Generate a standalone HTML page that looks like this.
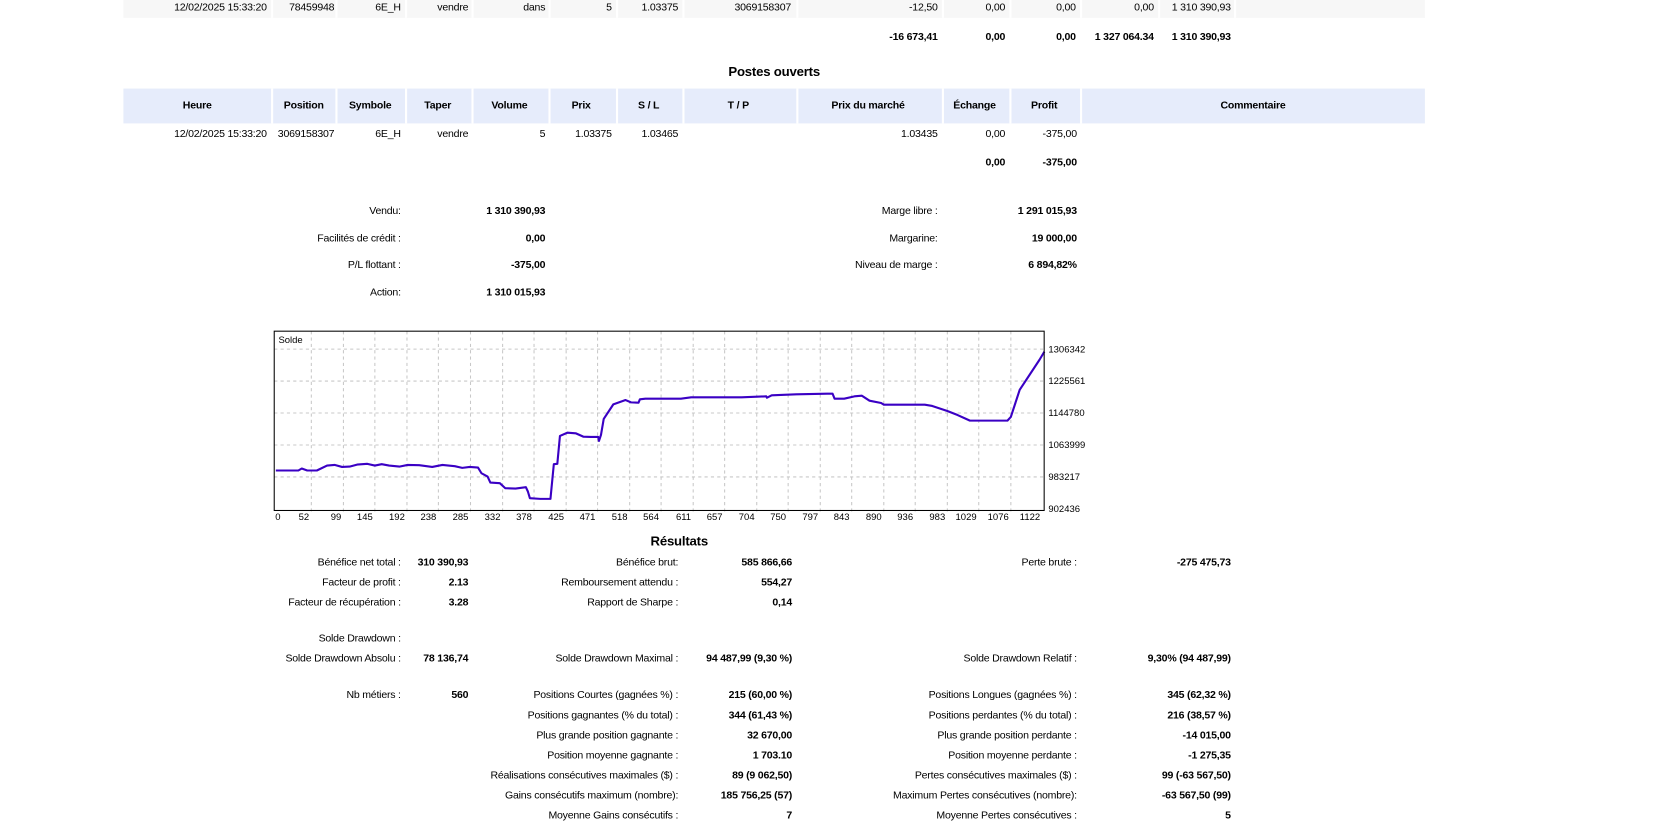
<!DOCTYPE html>
<html><head><meta charset="utf-8"><style>
html,body{margin:0;padding:0;background:#fff;overflow:hidden}
body{width:1658px;height:837px}
#w{position:absolute;left:0;top:0;width:1572px;height:794px;transform:scale(1.05471);transform-origin:0 0;font-family:"Liberation Sans",sans-serif;color:#000}
.t{position:absolute;white-space:nowrap;font-size:10px;line-height:12px;letter-spacing:-0.2px;transform:translate(-100%,-50%)}
.c{transform:translate(-50%,-50%)}
.b{font-weight:bold}
.bg{position:absolute}
</style></head><body>
<div id="w">
<!-- row 1 background -->
<div class="bg" style="left:117px;top:0;width:1234px;height:17px;background:#f7f7f7"></div>
<div class="bg" style="left:117px;top:84px;width:1234px;height:33px;background:#e6ecfb"></div>
<div id="seps"></div>

<div>
<span class="t" style="left:253px;top:8px">12/02/2025 15:33:20</span>
<span class="t" style="left:317px;top:8px">78459948</span>
<span class="t" style="left:380px;top:8px">6E_H</span>
<span class="t" style="left:444px;top:8px">vendre</span>
<span class="t" style="left:517px;top:8px">dans</span>
<span class="t" style="left:580px;top:8px">5</span>
<span class="t" style="left:643px;top:8px">1.03375</span>
<span class="t" style="left:750px;top:8px">3069158307</span>
<span class="t" style="left:889px;top:8px">-12,50</span>
<span class="t" style="left:953px;top:8px">0,00</span>
<span class="t" style="left:1020px;top:8px">0,00</span>
<span class="t" style="left:1094px;top:8px">0,00</span>
<span class="t" style="left:1167px;top:8px">1 310 390,93</span>
</div>
<div>
<span class="t b" style="left:889px;top:36px">-16 673,41</span>
<span class="t b" style="left:953px;top:36px">0,00</span>
<span class="t b" style="left:1020px;top:36px">0,00</span>
<span class="t b" style="left:1094px;top:36px">1 327 064.34</span>
<span class="t b" style="left:1167px;top:36px">1 310 390,93</span>
</div>
<span class="t c b" style="left:734px;top:68px;font-size:12.5px">Postes ouverts</span>
<div>
<span class="t c b" style="left:187px;top:101px">Heure</span>
<span class="t c b" style="left:288px;top:101px">Position</span>
<span class="t c b" style="left:351px;top:101px">Symbole</span>
<span class="t c b" style="left:415px;top:101px">Taper</span>
<span class="t c b" style="left:483px;top:101px">Volume</span>
<span class="t c b" style="left:551px;top:101px">Prix</span>
<span class="t c b" style="left:615px;top:101px">S / L</span>
<span class="t c b" style="left:700px;top:101px">T / P</span>
<span class="t c b" style="left:823px;top:101px">Prix du marché</span>
<span class="t c b" style="left:924px;top:101px">Échange</span>
<span class="t c b" style="left:990px;top:101px">Profit</span>
<span class="t c b" style="left:1188px;top:101px">Commentaire</span>
</div>
<div>
<span class="t" style="left:253px;top:128px">12/02/2025 15:33:20</span>
<span class="t" style="left:317px;top:128px">3069158307</span>
<span class="t" style="left:380px;top:128px">6E_H</span>
<span class="t" style="left:444px;top:128px">vendre</span>
<span class="t" style="left:517px;top:128px">5</span>
<span class="t" style="left:580px;top:128px">1.03375</span>
<span class="t" style="left:643px;top:128px">1.03465</span>
<span class="t" style="left:889px;top:128px">1.03435</span>
<span class="t" style="left:953px;top:128px">0,00</span>
<span class="t" style="left:1021px;top:128px">-375,00</span>
</div>
<div>
<span class="t b" style="left:953px;top:155px">0,00</span>
<span class="t b" style="left:1021px;top:155px">-375,00</span>
</div>
<div>
<span class="t" style="left:380px;top:201px">Vendu:</span><span class="t b" style="left:517px;top:201px">1 310 390,93</span>
<span class="t" style="left:380px;top:227px">Facilités de crédit :</span><span class="t b" style="left:517px;top:227px">0,00</span>
<span class="t" style="left:380px;top:252px">P/L flottant :</span><span class="t b" style="left:517px;top:252px">-375,00</span>
<span class="t" style="left:380px;top:278px">Action:</span><span class="t b" style="left:517px;top:278px">1 310 015,93</span>
<span class="t" style="left:889px;top:201px">Marge libre :</span><span class="t b" style="left:1021px;top:201px">1 291 015,93</span>
<span class="t" style="left:889px;top:227px">Margarine:</span><span class="t b" style="left:1021px;top:227px">19 000,00</span>
<span class="t" style="left:889px;top:252px">Niveau de marge :</span><span class="t b" style="left:1021px;top:252px">6 894,82%</span>
</div>

<svg id="chart" style="position:absolute;left:0;top:0" width="1572" height="794"></svg>

<span class="t c b" style="left:644px;top:513px;font-size:12.5px">Résultats</span>
<div>
<span class="t" style="left:380px;top:534px">Bénéfice net total :</span><span class="t b" style="left:444px;top:534px">310 390,93</span>
<span class="t" style="left:643px;top:534px">Bénéfice brut:</span><span class="t b" style="left:751px;top:534px">585 866,66</span>
<span class="t" style="left:1021px;top:534px">Perte brute :</span><span class="t b" style="left:1167px;top:534px">-275 475,73</span>
<span class="t" style="left:380px;top:553px">Facteur de profit :</span><span class="t b" style="left:444px;top:553px">2.13</span>
<span class="t" style="left:643px;top:553px">Remboursement attendu :</span><span class="t b" style="left:751px;top:553px">554,27</span>
<span class="t" style="left:380px;top:572px">Facteur de récupération :</span><span class="t b" style="left:444px;top:572px">3.28</span>
<span class="t" style="left:643px;top:572px">Rapport de Sharpe :</span><span class="t b" style="left:751px;top:572px">0,14</span>
<span class="t" style="left:380px;top:606px">Solde Drawdown :</span>
<span class="t" style="left:380px;top:625px">Solde Drawdown Absolu :</span><span class="t b" style="left:444px;top:625px">78 136,74</span>
<span class="t" style="left:643px;top:625px">Solde Drawdown Maximal :</span><span class="t b" style="left:751px;top:625px">94 487,99 (9,30 %)</span>
<span class="t" style="left:1021px;top:625px">Solde Drawdown Relatif :</span><span class="t b" style="left:1167px;top:625px">9,30% (94 487,99)</span>
<span class="t" style="left:380px;top:660px">Nb métiers :</span><span class="t b" style="left:444px;top:660px">560</span>
<span class="t" style="left:643px;top:660px">Positions Courtes (gagnées %) :</span><span class="t b" style="left:751px;top:660px">215 (60,00 %)</span>
<span class="t" style="left:1021px;top:660px">Positions Longues (gagnées %) :</span><span class="t b" style="left:1167px;top:660px">345 (62,32 %)</span>
<span class="t" style="left:643px;top:679px">Positions gagnantes (% du total) :</span><span class="t b" style="left:751px;top:679px">344 (61,43 %)</span>
<span class="t" style="left:1021px;top:679px">Positions perdantes (% du total) :</span><span class="t b" style="left:1167px;top:679px">216 (38,57 %)</span>
<span class="t" style="left:643px;top:698px">Plus grande position gagnante :</span><span class="t b" style="left:751px;top:698px">32 670,00</span>
<span class="t" style="left:1021px;top:698px">Plus grande position perdante :</span><span class="t b" style="left:1167px;top:698px">-14 015,00</span>
<span class="t" style="left:643px;top:717px">Position moyenne gagnante :</span><span class="t b" style="left:751px;top:717px">1 703.10</span>
<span class="t" style="left:1021px;top:717px">Position moyenne perdante :</span><span class="t b" style="left:1167px;top:717px">-1 275,35</span>
<span class="t" style="left:643px;top:736px">Réalisations consécutives maximales ($) :</span><span class="t b" style="left:751px;top:736px">89 (9 062,50)</span>
<span class="t" style="left:1021px;top:736px">Pertes consécutives maximales ($) :</span><span class="t b" style="left:1167px;top:736px">99 (-63 567,50)</span>
<span class="t" style="left:643px;top:755px">Gains consécutifs maximum (nombre):</span><span class="t b" style="left:751px;top:755px">185 756,25 (57)</span>
<span class="t" style="left:1021px;top:755px">Maximum Pertes consécutives (nombre):</span><span class="t b" style="left:1167px;top:755px">-63 567,50 (99)</span>
<span class="t" style="left:643px;top:774px">Moyenne Gains consécutifs :</span><span class="t b" style="left:751px;top:774px">7</span>
<span class="t" style="left:1021px;top:774px">Moyenne Pertes consécutives :</span><span class="t b" style="left:1167px;top:774px">5</span>
</div>
</div>
<script>
// column separators (layout, not data)
var sepX=[257,318,384,447,520,584,647,755,893,957,1024];
var sepX1=[257,318,384,447,520,584,647,755,893,957,1024,1098,1170];
var seps=document.getElementById('seps');
function sep(x,y,h){var d=document.createElement('div');


d.style.cssText='position:absolute;left:'+x+'px;top:'+y+'px;width:2px;height:'+h+'px;background:#fff';seps.appendChild(d);}
sepX1.forEach(function(x){sep(x,0,17);});
sepX.forEach(function(x){sep(x,84,33);});

// chart data
var tradeIdx=[0,33,38,46,60,75,86,97,108,119,134,145,155,166,181,193,210,229,244,262,273,284,296,301,310,314,328,336,351,366,369,372,387,402,407,412,416,427,439,450,461,472,473,476,480,494,512,520,531,533,541,593,608,682,718,719,726,762,807,815,818,832,847,858,869,886,890,950,961,983,998,1016,1071,1076,1089,1118,1125];
var balance=[999377,999377,1004423,999377,999377,1011992,1013674,1008628,1009469,1014515,1016197,1011992,1015356,1011992,1009469,1013674,1012833,1008628,1013674,1010310,1006105,1008628,1006946,992649,984239,969101,967419,954804,953963,957327,946394,929574,927892,927892,1015356,1016197,1086841,1095251,1093569,1085159,1084318,1084318,1074226,1089364,1129732,1166736,1177669,1171782,1170941,1179351,1181033,1181033,1184397,1184397,1186920,1183556,1189443,1191966,1193648,1193648,1181033,1181033,1186920,1188602,1175987,1170100,1165895,1165895,1162531,1149916,1139824,1125527,1125527,1135000,1203400,1279500,1300000];
var xTicks=[0,52,99,145,192,238,285,332,378,425,471,518,564,611,657,704,750,797,843,890,936,983,1029,1076,1122];
var yTicks=[1306342,1225561,1144780,1063999,983217,902436];

var L=260,R=990,T=314,B=484;
function xS(i){return 261.5+i*0.6477;}
function yS(v){return 331+(1306342-v)/2666;}
var svg=document.getElementById('chart'),NS='http://www.w3.org/2000/svg';
function el(tag,attrs){var e=document.createElementNS(NS,tag);for(var k in attrs)e.setAttribute(k,attrs[k]);svg.appendChild(e);return e;}
var bg=el('rect',{x:L,y:T,width:R-L,height:B-T,fill:'#fff'});


xTicks.forEach(function(t,k){
  var x=xS(t);
  if(k>0&&x<R-2){var g=el('line',{x1:x,y1:T,x2:x,y2:B+3,stroke:'#c8c8c8','stroke-dasharray':'3,3'});
  
  }
  var tx=el('text',{x:k==0?L+1:x-2,y:B+9,'font-size':'9px','font-family':'Liberation Sans, sans-serif','text-anchor':k==0?'start':'end'});
  tx.textContent=t;
  
  
});
yTicks.forEach(function(v){
  var y=yS(v);
  if(y<B-2){var g=el('line',{x1:L,y1:y,x2:R,y2:y,stroke:'#c8c8c8','stroke-dasharray':'3,3'});
  
  }
  var tx=el('text',{x:R+4,y:y+3,'font-size':'9px','font-family':'Liberation Sans, sans-serif'});
  tx.textContent=v;
  
  
});
var pts=tradeIdx.map(function(i,k){return xS(i).toFixed(1)+','+yS(balance[k]).toFixed(1);}).join(' ');
var pl=el('polyline',{points:pts,fill:'none',stroke:'#3a00c4','stroke-width':2,'stroke-linejoin':'round'});


var fr=el('rect',{x:L,y:T,width:R-L,height:B-T,fill:'none',stroke:'#000','stroke-width':1});


var st=el('text',{x:L+4,y:T+11,'font-size':'9px','font-family':'Liberation Sans, sans-serif'});
st.textContent='Solde';


</script>
</body></html>
